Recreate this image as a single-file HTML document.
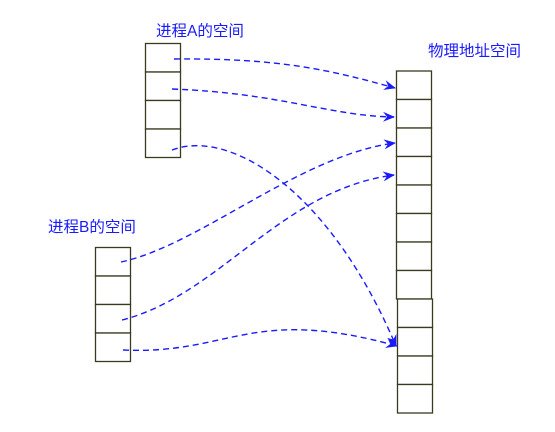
<!DOCTYPE html>
<html><head><meta charset="utf-8">
<style>
html,body{margin:0;padding:0;background:#fff;width:555px;height:432px;overflow:hidden}
text{font-family:"Liberation Sans","Noto Sans CJK SC",sans-serif;font-size:15.5px;fill:#1a1aff}
</style></head>
<body>
<svg width="555" height="432" viewBox="0 0 555 432">
<defs>
<marker id="ah" markerWidth="12" markerHeight="10" refX="11" refY="5" orient="auto" markerUnits="userSpaceOnUse">
<path d="M0,0 L12,5 L0,10 L4,5 Z" fill="#1a1aff"/>
</marker>
</defs>
<text x="156" y="36">进程A的空间</text>
<text x="48" y="232">进程B的空间</text>
<text x="428" y="56">物理地址空间</text>
<g fill="#fff" stroke="#3a3a20" stroke-width="1.3">
<g>
<rect x="145.5" y="43.5" width="35" height="28.5"/>
<rect x="145.5" y="72" width="35" height="28.5"/>
<rect x="145.5" y="100.5" width="35" height="28.5"/>
<rect x="145.5" y="129" width="35" height="28.5"/>
</g>
<g>
<rect x="95.5" y="247.5" width="35" height="28.5"/>
<rect x="95.5" y="276" width="35" height="28.5"/>
<rect x="95.5" y="304.5" width="35" height="28.5"/>
<rect x="95.5" y="333" width="35" height="28.5"/>
</g>
<g>
<rect x="396.5" y="71" width="35" height="28.5"/>
<rect x="396.5" y="99.5" width="35" height="28.5"/>
<rect x="396.5" y="128" width="35" height="28.5"/>
<rect x="396.5" y="156.5" width="35" height="28.5"/>
<rect x="396.5" y="185" width="35" height="28.5"/>
<rect x="396.5" y="213.5" width="35" height="28.5"/>
<rect x="396.5" y="242" width="35" height="28.5"/>
<rect x="396.5" y="270.5" width="35" height="28.5"/>
<rect x="397.5" y="299" width="35" height="28.5"/>
<rect x="397.5" y="327.5" width="35" height="28.5"/>
<rect x="397.5" y="356" width="35" height="28.5"/>
<rect x="397.5" y="384.5" width="35" height="28.5"/>
</g>
</g>
<g fill="none" stroke="#1a1aff" stroke-width="1.4" stroke-dasharray="6,4" marker-end="url(#ah)">
<path d="M174,59 C280,58 330,70 395,88"/>
<path d="M172,89 C280,93 330,116 394,117"/>
<path d="M172,150 C230,128 330,190 396,346"/>
<path d="M121,262 C200,245 300,155 395,143"/>
<path d="M122,320 C220,295 280,190 394,175"/>
<path d="M123,350 C230,355 250,305 397,346"/>
</g>
</svg>
</body></html>
